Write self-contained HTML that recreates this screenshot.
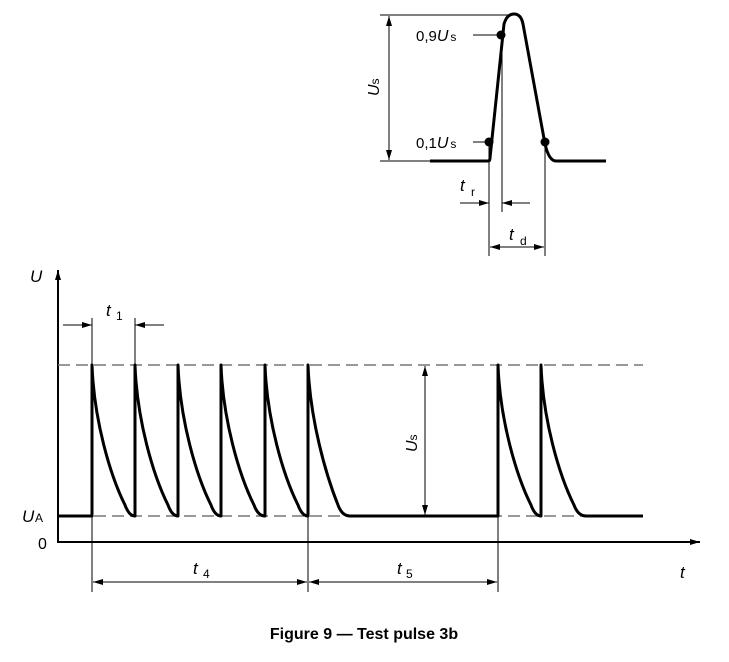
<!DOCTYPE html>
<html><head><style>
html,body{margin:0;padding:0;background:#fff;}
svg{display:block;}
text{font-family:"Liberation Sans",sans-serif;fill:#000;}
.it{font-style:italic;}
</style></head><body>
<svg width="729" height="662" viewBox="0 0 729 662" xmlns="http://www.w3.org/2000/svg">
<defs>
<marker id="a" viewBox="0 0 10 6" refX="10" refY="3" markerWidth="10" markerHeight="6" orient="auto-start-reverse" markerUnits="userSpaceOnUse"><path d="M0,0 L10,3 L0,6 z" fill="#000"/></marker>
</defs>
<g stroke="#000" fill="none">
<line x1="380" y1="15" x2="512" y2="15" stroke-width="1"/>
<line x1="380" y1="161" x2="430" y2="161" stroke-width="1"/>
<line x1="389" y1="16" x2="389" y2="160" stroke-width="1" marker-start="url(#a)" marker-end="url(#a)"/>
<path d="M430 161 L488 161 Q490 161 490 158 L504 24 Q507 14 514 14 Q521 14 523 24 L545 144 Q549 161 556 161 L606 161" stroke-width="3"/>
<line x1="473" y1="35" x2="497" y2="35" stroke-width="1"/>
<line x1="473" y1="142" x2="485" y2="142" stroke-width="1"/>
<line x1="489" y1="145" x2="489" y2="256" stroke-width="1"/>
<line x1="502" y1="38" x2="502" y2="212" stroke-width="1"/>
<line x1="545" y1="145" x2="545" y2="256" stroke-width="1"/>
<line x1="460" y1="203" x2="489" y2="203" stroke-width="1" marker-end="url(#a)"/>
<line x1="530" y1="203" x2="502" y2="203" stroke-width="1" marker-end="url(#a)"/>
<line x1="490" y1="247" x2="544" y2="247" stroke-width="1" marker-start="url(#a)" marker-end="url(#a)"/>
</g>
<circle cx="501" cy="35" r="4.5" fill="#000"/>
<circle cx="489" cy="142" r="4.5" fill="#000"/>
<circle cx="545" cy="142" r="4.5" fill="#000"/>
<text x="416" y="41" font-size="15">0,9<tspan class="it" font-size="16">U</tspan><tspan font-size="12" dx="2">s</tspan></text>
<text x="416" y="148" font-size="15">0,1<tspan class="it" font-size="16">U</tspan><tspan font-size="12" dx="2">s</tspan></text>
<text transform="translate(379,96) rotate(-90)" font-size="16"><tspan class="it">U</tspan><tspan font-size="12">s</tspan></text>
<text x="460" y="191" font-size="17" class="it">t</text><text x="471" y="196" font-size="12">r</text>
<text x="509" y="240" font-size="17" class="it">t</text><text x="520" y="245" font-size="12">d</text>

<g stroke="#000" fill="none">
<line x1="58" y1="542" x2="58" y2="270" stroke-width="2" marker-end="url(#a)"/>
<line x1="57" y1="542" x2="700" y2="542" stroke-width="2" marker-end="url(#a)"/>
<line x1="58" y1="365" x2="643" y2="365" stroke="#777" stroke-width="1.5" stroke-dasharray="12,6"/>
<line x1="58" y1="516" x2="643" y2="516" stroke="#777" stroke-width="1.5" stroke-dasharray="12,6"/>
<g stroke-width="3" stroke-linejoin="round">
<path d="M58 516 L92 516 L92 365 C94 420 110 475 125 505 Q129 516 135 516 L135 365 C137 420 153 475 168 505 Q172 516 178 516 L178 365 C180 420 196 475 211 505 Q215 516 221 516 L221 365 C223 420 239 475 254 505 Q258 516 265 516 L265 365 C267 420 283 475 298 505 Q302 516 308 516 L308 365 C310 420 326 475 338 505 Q342 516 350 516 L498 516 L498 365 C500 420 516 475 531 505 Q535 516 541 516 L541 365 C543 420 559 475 574 505 Q578 516 586 516 L643 516"/>
</g>
<line x1="92" y1="318" x2="92" y2="592" stroke-width="1"/>
<line x1="135" y1="318" x2="135" y2="365" stroke-width="1"/>
<line x1="308" y1="365" x2="308" y2="592" stroke-width="1"/>
<line x1="498" y1="516" x2="498" y2="592" stroke-width="1"/>
<line x1="63" y1="325" x2="92" y2="325" stroke-width="1" marker-end="url(#a)"/>
<line x1="164" y1="325" x2="135" y2="325" stroke-width="1" marker-end="url(#a)"/>
<line x1="93" y1="582" x2="307" y2="582" stroke-width="1" marker-start="url(#a)" marker-end="url(#a)"/>
<line x1="309" y1="582" x2="497" y2="582" stroke-width="1" marker-start="url(#a)" marker-end="url(#a)"/>
<line x1="425" y1="366" x2="425" y2="515" stroke-width="1" marker-start="url(#a)" marker-end="url(#a)"/>
</g>
<text x="30" y="282" font-size="17" class="it">U</text>
<text x="22" y="522" font-size="17" class="it">U</text><text x="35" y="522" font-size="12">A</text>
<text x="38" y="549" font-size="16">0</text>
<text x="106" y="316" font-size="17" class="it">t</text><text x="116" y="320" font-size="12">1</text>
<text x="193" y="574" font-size="17" class="it">t</text><text x="203" y="578" font-size="12">4</text>
<text x="397" y="574" font-size="17" class="it">t</text><text x="406" y="578" font-size="12">5</text>
<text x="680" y="578" font-size="17" class="it">t</text>
<text transform="translate(417,452) rotate(-90)" font-size="16"><tspan class="it">U</tspan><tspan font-size="12">s</tspan></text>
<text x="364" y="639" font-size="16" font-weight="bold" text-anchor="middle">Figure 9 — Test pulse 3b</text>
</svg>
</body></html>
